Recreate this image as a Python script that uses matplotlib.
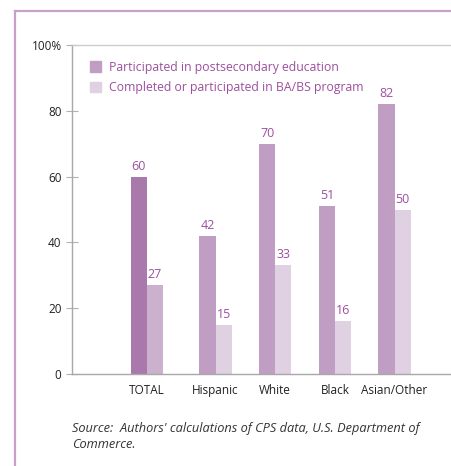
import matplotlib
matplotlib.use("Agg")
import matplotlib.pyplot as plt
from matplotlib.patches import Patch
from matplotlib.lines import Line2D

# Data
groups = ["TOTAL", "Hispanic", "White", "Black", "Asian/Other"]
participated = [60, 42, 70, 51, 82]
completed = [27, 15, 33, 16, 50]
yticks = [0, 20, 40, 60, 80, 100]
ytick_labels = ["0", "20", "40", "60", "80", "100%"]

# Colours
dark = "#c09dc2"
light = "#e0d1e2"
dark_total = "#a979ab"
light_total = "#cbb1cd"
label_col = "#9d4f9f"
frame_col = "#c99fcb"

plt.rcParams['font.family'] = ['Open Sans', 'DejaVu Sans']

fig = plt.figure(figsize=(4.51, 4.66), dpi=100)

# outer frame (left and top only visible)
fig.add_artist(Line2D([15/451, 15/451], [0, 1 - 11/466], transform=fig.transFigure, color=frame_col, lw=1.6))
fig.add_artist(Line2D([15/451, 1], [1 - 11/466, 1 - 11/466], transform=fig.transFigure, color=frame_col, lw=1.6))

ax = fig.add_axes([72/451, (466-374)/466, (451-72)/451 + 0.01, (374-45)/466])

# group positions, TOTAL set a bit apart
xpos = [0, 1.15, 2.15, 3.15, 4.15]
w = 0.27

for i, g in enumerate(groups):
    c1 = dark_total if i == 0 else dark
    c2 = light_total if i == 0 else light
    ax.bar(xpos[i] - w/2, participated[i], width=w, color=c1)
    ax.bar(xpos[i] + w/2, completed[i], width=w, color=c2)
    ax.text(xpos[i] - w/2, participated[i] + 1.2, str(participated[i]), ha='center', va='bottom',
            color=label_col, fontsize=9)
    ax.text(xpos[i] + w/2, completed[i] + 1.2, str(completed[i]), ha='center', va='bottom',
            color=label_col, fontsize=9)

ax.set_ylim(0, 100)
ax.set_xlim(-1.254, 5.17)

ax.set_yticks(yticks)
ax.set_yticklabels(ytick_labels, fontsize=8.5, color="#222222")
ax.tick_params(axis='y', direction='inout', length=9, width=0.8, color="#b0b0b0", pad=3)
ax.set_xticks(xpos)
ax.set_xticklabels(groups, fontsize=8.5, color="#222222")
ax.tick_params(axis='x', length=0, pad=7)

for s in ['left', 'bottom']:
    ax.spines[s].set_color("#a8a8a8")
    ax.spines[s].set_linewidth(1.0)
ax.spines['top'].set_color("#cccccc")
ax.spines['top'].set_linewidth(1.0)
ax.spines['right'].set_visible(False)

# legend
handles = [Patch(color=dark), Patch(color=light)]
ax.legend(handles, ["Participated in postsecondary education",
                    "Completed or participated in BA/BS program"],
          loc='upper left', bbox_to_anchor=(0.035, 0.967), frameon=False,
          fontsize=8.8, labelcolor=label_col, handlelength=0.9, handleheight=0.9,
          handletextpad=0.6, labelspacing=0.62, borderaxespad=0)

fig.text(72/451, 1 - 422/466, "Source:  Authors' calculations of CPS data, U.S. Department of\nCommerce.",
         ha='left', va='top', fontsize=9.2, style='italic', color="#333333", linespacing=1.3)

fig.savefig("out.png", dpi=100)
